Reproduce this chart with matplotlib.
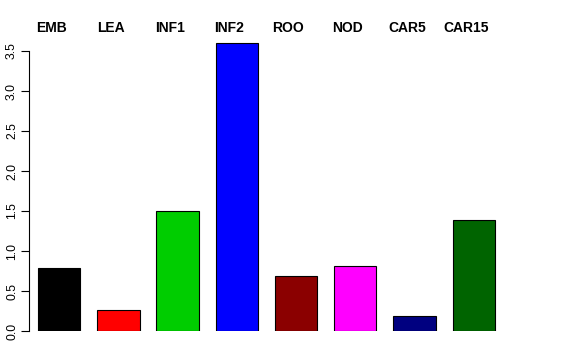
import matplotlib
matplotlib.use("Agg")
import matplotlib.pyplot as plt
import numpy as np

categories = ["EMB", "LEA", "INF1", "INF2", "ROO", "NOD", "CAR5", "CAR15"]
values = [0.79, 0.26, 1.50, 3.60, 0.69, 0.81, 0.19, 1.39]
colors = ["#000000", "#FF0000", "#00CD00", "#0000FF", "#8B0000", "#FF00FF", "#000080", "#006400"]
yticks = [0.0, 0.5, 1.0, 1.5, 2.0, 2.5, 3.0, 3.5]

plt.rcParams['font.family'] = ['Liberation Sans', 'DejaVu Sans']

W, H = 576, 360
fig = plt.figure(figsize=(W / 100, H / 100), dpi=100)

px_per_x = 42.3
px_per_y = 80.0
x_left_px, x_right_px = 28.5, 540
y0_px = 331
ymax = 3.7
first_left = -0.5
xmin = first_left - (38 - x_left_px) / px_per_x
xmax = first_left + (x_right_px - 38) / px_per_x

ax = fig.add_axes([x_left_px / W, (H - y0_px) / H,
                   (x_right_px - x_left_px) / W, ymax * px_per_y / H])
ax.set_xlim(xmin, xmax)
ax.set_ylim(0, ymax)

x = np.arange(len(categories)) * 1.4
ax.bar(x, values, width=1.0, color=colors, edgecolor="black", linewidth=0.8)

for xi, lab in zip(x, categories):
    ax.text(xi - 0.18, (y0_px - 28) / px_per_y, lab, ha="center", va="center",
            fontsize=10, fontweight="bold", clip_on=False)

for s in ["top", "right", "bottom"]:
    ax.spines[s].set_visible(False)
ax.spines["left"].set_bounds(0, 3.5)
ax.spines["left"].set_linewidth(0.8)
ax.set_yticks(yticks)
ax.set_yticklabels([f"{v:.1f}" for v in yticks], rotation=90, va="center", fontsize=8.8)
ax.tick_params(axis="y", length=5.5, width=0.8, pad=2)
ax.set_xticks([])

fig.savefig("out.png", dpi=100)
